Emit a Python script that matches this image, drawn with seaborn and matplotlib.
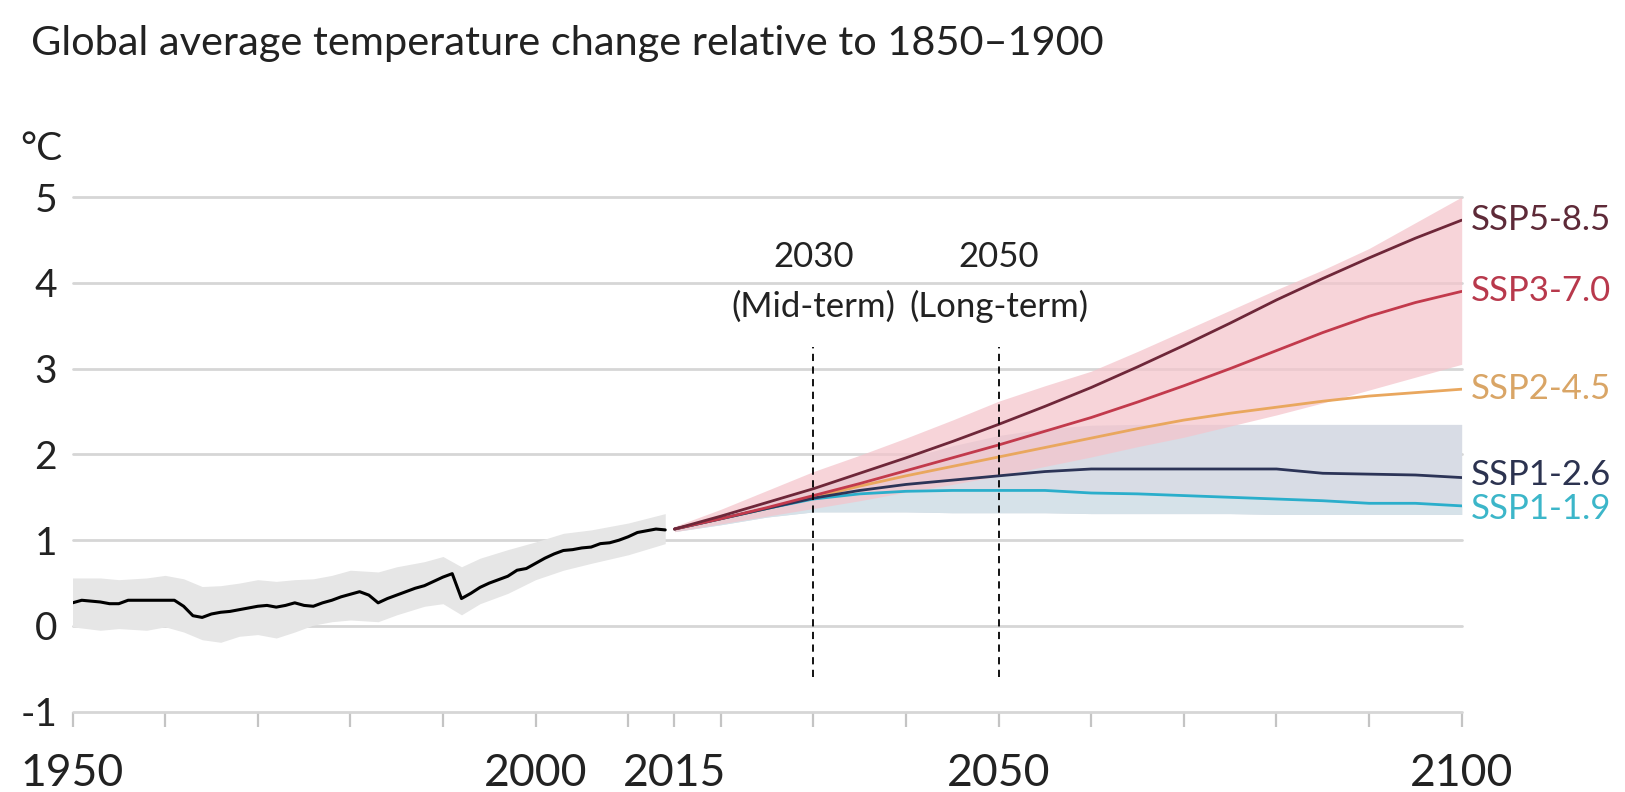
import numpy as np
import pandas as pd
import matplotlib
matplotlib.use("Agg")
import matplotlib.pyplot as plt
import seaborn as sns

# ---------------- data ----------------
hist_years = list(range(1950, 2015))
hist_mean = [0.27, 0.30, 0.29, 0.28, 0.26, 0.26, 0.30, 0.30, 0.30, 0.30,
             0.30, 0.30, 0.23, 0.12, 0.10, 0.14, 0.16, 0.17, 0.19, 0.21,
             0.23, 0.24, 0.22, 0.24, 0.27, 0.24, 0.23, 0.27, 0.30, 0.34,
             0.37, 0.40, 0.36, 0.27, 0.32, 0.36, 0.40, 0.44, 0.47, 0.52,
             0.57, 0.61, 0.32, 0.38, 0.45, 0.50, 0.54, 0.58, 0.65, 0.67,
             0.73, 0.79, 0.84, 0.88, 0.89, 0.91, 0.92, 0.96, 0.97, 1.00,
             1.04, 1.09, 1.11, 1.13, 1.12]

band_years = [1950, 1953, 1955, 1958, 1960, 1962, 1964, 1966, 1968, 1970,
              1972, 1974, 1976, 1978, 1980, 1983, 1985, 1988, 1990, 1992,
              1994, 1997, 2000, 2003, 2006, 2010, 2014]
hist_upper = [0.56, 0.56, 0.54, 0.56, 0.59, 0.55, 0.46, 0.47, 0.50, 0.54,
              0.52, 0.54, 0.55, 0.59, 0.65, 0.63, 0.69, 0.75, 0.81, 0.69,
              0.79, 0.89, 0.98, 1.08, 1.12, 1.20, 1.31]
hist_lower = [-0.01, -0.05, -0.03, -0.05, -0.01, -0.07, -0.16, -0.19, -0.12, -0.10,
              -0.14, -0.07, 0.01, 0.05, 0.07, 0.05, 0.13, 0.23, 0.26, 0.13,
              0.26, 0.38, 0.54, 0.65, 0.73, 0.83, 0.96]

proj_years = [2015, 2020, 2025, 2030, 2035, 2040, 2045, 2050, 2055, 2060,
              2065, 2070, 2075, 2080, 2085, 2090, 2095, 2100]
ssp585 = [1.13, 1.28, 1.44, 1.60, 1.78, 1.96, 2.15, 2.35, 2.56, 2.78,
          3.02, 3.27, 3.53, 3.80, 4.05, 4.29, 4.52, 4.73]
ssp370 = [1.13, 1.25, 1.38, 1.52, 1.66, 1.81, 1.96, 2.11, 2.27, 2.43,
          2.61, 2.80, 3.00, 3.21, 3.42, 3.61, 3.77, 3.90]
ssp245 = [1.13, 1.25, 1.37, 1.50, 1.63, 1.75, 1.86, 1.97, 2.08, 2.19,
          2.30, 2.40, 2.48, 2.55, 2.62, 2.68, 2.72, 2.76]
ssp126 = [1.13, 1.25, 1.37, 1.49, 1.58, 1.65, 1.70, 1.75, 1.80, 1.83,
          1.83, 1.83, 1.83, 1.83, 1.78, 1.77, 1.76, 1.73]
ssp119 = [1.13, 1.25, 1.37, 1.48, 1.54, 1.57, 1.58, 1.58, 1.58, 1.55,
          1.54, 1.52, 1.50, 1.48, 1.46, 1.43, 1.43, 1.40]

high_upper = [1.16, 1.36, 1.58, 1.80, 1.99, 2.19, 2.40, 2.62, 2.80, 2.97,
              3.20, 3.44, 3.68, 3.92, 4.15, 4.40, 4.70, 5.00]
high_lower = [1.10, 1.19, 1.28, 1.37, 1.46, 1.56, 1.65, 1.75, 1.86, 1.97,
              2.09, 2.20, 2.33, 2.46, 2.60, 2.75, 2.90, 3.05]
low_upper = [1.14, 1.30, 1.45, 1.60, 1.78, 1.95, 2.10, 2.22, 2.30, 2.34,
             2.35, 2.35, 2.35, 2.35, 2.35, 2.35, 2.35, 2.35]
low_lower = [1.10, 1.18, 1.27, 1.33, 1.33, 1.33, 1.32, 1.32, 1.32, 1.31,
             1.31, 1.31, 1.31, 1.30, 1.30, 1.30, 1.30, 1.30]

scenarios = ["SSP5-8.5", "SSP3-7.0", "SSP2-4.5", "SSP1-2.6", "SSP1-1.9"]
line_colors = ["#6e2739", "#c23a4c", "#e9a75e", "#2c3457", "#2aaecb"]
label_colors = ["#5e2a38", "#b8394c", "#d9a566", "#2c3350", "#3cb6c9"]

x_ticks = [1950, 1960, 1970, 1980, 1990, 2000, 2010, 2015, 2020, 2030,
           2040, 2050, 2060, 2070, 2080, 2090, 2100]
x_labelled = [1950, 2000, 2015, 2050, 2100]
y_ticks = [-1, 0, 1, 2, 3, 4, 5]
marker_years = [2030, 2050]
marker_labels = [["2030", "(Mid-term)"], ["2050", "(Long-term)"]]
title = "Global average temperature change relative to 1850\u20131900"

# ---------------- style ----------------
sns.set_theme(style="white")
plt.rcParams["font.family"] = ["Lato", "DejaVu Sans"]
plt.rcParams["axes.unicode_minus"] = False

W, H = 1625, 792
fig = plt.figure(figsize=(W / 100, H / 100), dpi=100)
y_top_px, y_bot_px = 197.0, 711.8
x_l_px, x_r_px = 72.5, 1461.7
ax = fig.add_axes([x_l_px / W, 1 - y_bot_px / H, (x_r_px - x_l_px) / W,
                   (y_bot_px - y_top_px) / H])
ax.set_xlim(1950, 2100)
ax.set_ylim(-1, 5)

# grid
ax.set_yticks(y_ticks)
ax.grid(axis="y", color="#d6d6d6", lw=2.0)
ax.grid(axis="x", visible=False)
ax.set_axisbelow(True)
for ln in ax.get_ygridlines():
    ln.set_clip_on(False)
for s in ax.spines.values():
    s.set_visible(False)

# historical
ax.fill_between(band_years, hist_lower, hist_upper, color="#e6e6e6", lw=0, zorder=1)
hist_df = pd.DataFrame({"year": hist_years, "temp": hist_mean})
sns.lineplot(data=hist_df, x="year", y="temp", color="black", lw=2.2, ax=ax, zorder=5)

# projection bands
ax.fill_between(proj_years, low_lower, low_upper, color="#d8dce5", lw=0, zorder=1)
ax.fill_between(proj_years, low_lower, ssp119, color="#d6e2e9", lw=0, zorder=1.1)
ax.fill_between(proj_years, high_lower, high_upper, color="#f4c4cb", alpha=0.72,
                lw=0, zorder=1.2)

# projection lines
series = [ssp585, ssp370, ssp245, ssp126, ssp119]
proj_df = pd.concat([pd.DataFrame({"year": proj_years, "temp": v, "scenario": n})
                     for n, v in zip(scenarios, series)], ignore_index=True)
order = ["SSP2-4.5", "SSP1-1.9", "SSP1-2.6", "SSP3-7.0", "SSP5-8.5"]
pal = dict(zip(scenarios, line_colors))
sns.lineplot(data=proj_df, x="year", y="temp", hue="scenario", hue_order=order,
             palette=pal, lw=2.0, legend=False, ax=ax, zorder=6)

# right labels (the two low scenarios nudged apart so they do not collide)
label_nudge = [0.0, 0.0, 0.0, 0.035, -0.035]
for name, vals, col, dy in zip(scenarios, series, label_colors, label_nudge):
    ax.text(2101.0, vals[-1] + dy, name, color=col, fontsize=25, va="center",
            ha="left", clip_on=False)

# dashed markers
ax.vlines(marker_years, -0.6, 3.25, colors="black", linestyles=(0, (4, 3)), lw=1.3,
          zorder=7)
for yr, (l1, l2) in zip(marker_years, marker_labels):
    ax.text(yr, 4.3, l1, ha="center", va="center", fontsize=25, color="#222222")
    ax.text(yr, 3.72, l2, ha="center", va="center", fontsize=25, color="#222222")

# axes ticks
ax.set_xticks(x_ticks)
ax.set_xticklabels([str(t) if t in x_labelled else "" for t in x_ticks])
ax.tick_params(axis="x", length=11, width=1.6, color="#c4c4c4", pad=19,
               labelsize=32, labelcolor="#222222", bottom=True)
ax.tick_params(axis="y", length=0, pad=11, labelsize=28, labelcolor="#222222")
ax.set_xlabel("")
ax.set_ylabel("")

fig.text(20 / W, 1 - 160 / H, "\u00b0C", fontsize=28, color="#222222",
         ha="left", va="baseline")
t = fig.text(31 / W, 1 - 55 / H, title, fontsize=24, color="#222222",
             ha="left", va="baseline")
fig.canvas.draw()
bb = t.get_window_extent()
t.set_fontsize(24 * 1072 / bb.width)

fig.savefig("out.png", dpi=100, facecolor="white")
